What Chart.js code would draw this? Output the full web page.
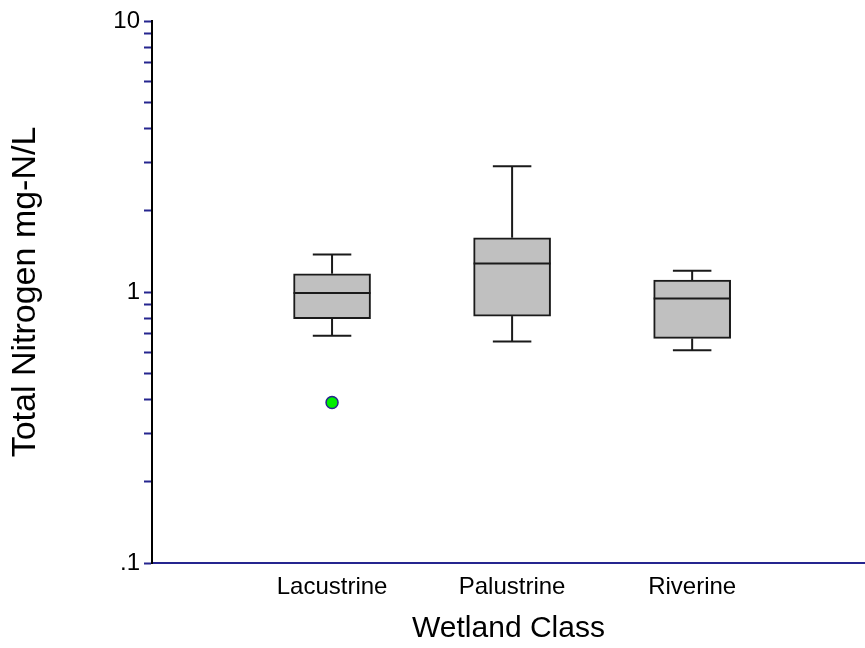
<!DOCTYPE html>
<html><head><meta charset="utf-8">
<script src="https://cdn.jsdelivr.net/npm/chart.js@4/dist/chart.umd.min.js"></script>
<style>html,body{margin:0;padding:0;background:#fff;overflow:hidden}#wrap{width:865px;height:648px;position:relative;overflow:hidden}canvas{display:block}</style>
</head><body><div id="wrap"><canvas id="c"></canvas></div>
<script>
// ---- data ----
const categories = ['Lacustrine', 'Palustrine', 'Riverine'];
const whiskerLow  = [0.690, 0.657, 0.609];
const q1          = [0.797, 0.815, 0.674];
const median      = [0.992, 1.275, 0.947];
const q3          = [1.168, 1.586, 1.107];
const whiskerHigh = [1.376, 2.908, 1.198];
const outlierCategory = ['Lacustrine'];
const outlierValue    = [0.391];
const majorTicks      = [0.1, 1, 10];
const majorTickLabels = ['.1', '1', '10'];
const minorMantissas  = [2, 3, 4, 5, 6, 7, 8, 9];

const NAVY = '#25258f';
const INK = '#1a1a1a';
const FONT = 'Liberation Sans, Arial, Helvetica, sans-serif';

const yTickValues = [];
majorTicks.forEach((m, i) => {
  yTickValues.push(m);
  if (i < majorTicks.length - 1) minorMantissas.forEach(k => yTickValues.push(m * k));
});
function labelForY(v) {
  for (let i = 0; i < majorTicks.length; i++) {
    if (Math.abs(v - majorTicks[i]) < majorTicks[i] * 1e-6) return majorTickLabels[i];
  }
  return '';
}
const catPos = c => categories.indexOf(c) + 1;

const whiskerPlugin = {
  id: 'whiskers',
  afterDatasetsDraw(chart) {
    const {ctx, scales: {x, y}} = chart;
    const meta = chart.getDatasetMeta(0);
    ctx.save();
    ctx.strokeStyle = INK;
    ctx.lineWidth = 2;
    const seg = (x1, y1, x2, y2) => { ctx.beginPath(); ctx.moveTo(x1, y1); ctx.lineTo(x2, y2); ctx.stroke(); };
    categories.forEach((c, i) => {
      const px = x.getPixelForValue(i + 1);
      const bar = meta.data[i];
      const half = bar ? bar.width / 2 : 38;
      const cap = half / 2;
      const yHi = y.getPixelForValue(whiskerHigh[i]);
      const yLo = y.getPixelForValue(whiskerLow[i]);
      const yQ3 = y.getPixelForValue(q3[i]);
      const yQ1 = y.getPixelForValue(q1[i]);
      const yMed = y.getPixelForValue(median[i]);
      seg(px, yQ3, px, yHi);
      seg(px - cap, yHi, px + cap, yHi);
      seg(px, yQ1, px, yLo);
      seg(px - cap, yLo, px + cap, yLo);
      seg(px - half, yMed, px + half, yMed);
    });
    ctx.restore();
  }
};

new Chart(document.getElementById('c'), {
  type: 'bar',
  data: {
    datasets: [
      {
        label: 'Box',
        data: categories.map((c, i) => ({x: i + 1, y: [q1[i], q3[i]]})),
        backgroundColor: '#c0c0c0',
        borderColor: INK,
        borderWidth: 2,
        borderSkipped: false,
        barThickness: 77
      },
      {
        type: 'scatter',
        label: 'Outliers',
        data: outlierCategory.map((c, i) => ({x: catPos(c), y: outlierValue[i]})),
        backgroundColor: '#00ee00',
        borderColor: NAVY,
        borderWidth: 1.5,
        pointRadius: 6
      }
    ]
  },
  options: {
    responsive: true,
    maintainAspectRatio: false,
    animation: false,
    layout: {autoPadding: false, padding: {top: 21, right: 0, left: 0, bottom: 0}},
    plugins: {legend: {display: false}, tooltip: {enabled: false}},
    scales: {
      x: {
        type: 'linear',
        min: 0,
        max: 3.96,
        offset: false,
        afterFit: s => { s.height = 85; s.paddingLeft = 0; s.paddingRight = 0; },
        afterBuildTicks: s => { s.ticks = categories.map((c, i) => ({value: i + 1})); },
        grid: {display: true, drawOnChartArea: false, drawTicks: false},
        border: {display: true, color: NAVY, width: 2},
        ticks: {
          autoSkip: false,
          maxRotation: 0,
          padding: 10,
          color: '#000',
          font: {family: FONT, size: 24},
          callback: v => categories[Math.round(v) - 1] || ''
        },
        title: {
          display: true,
          text: 'Wetland Class',
          color: '#000',
          font: {family: FONT, size: 30},
          padding: {top: 0, bottom: 1}
        }
      },
      y: {
        type: 'logarithmic',
        min: 0.1,
        max: 10,
        afterFit: s => { s.width = 152; },
        afterBuildTicks: s => { s.ticks = yTickValues.map(v => ({value: v})); },
        grid: {display: true, drawOnChartArea: false, drawTicks: true, tickLength: 8, tickColor: NAVY, tickWidth: 2, color: NAVY},
        border: {display: true, color: '#000', width: 2},
        ticks: {
          autoSkip: false,
          padding: 4,
          color: '#000',
          font: {family: FONT, size: 24},
          callback: v => labelForY(v)
        },
        title: {
          display: true,
          text: 'Total Nitrogen mg-N/L',
          color: '#000',
          font: {family: FONT, size: 34},
          padding: {top: 5, bottom: 0}
        }
      }
    }
  },
  plugins: [whiskerPlugin]
});
</script>
</body></html>
